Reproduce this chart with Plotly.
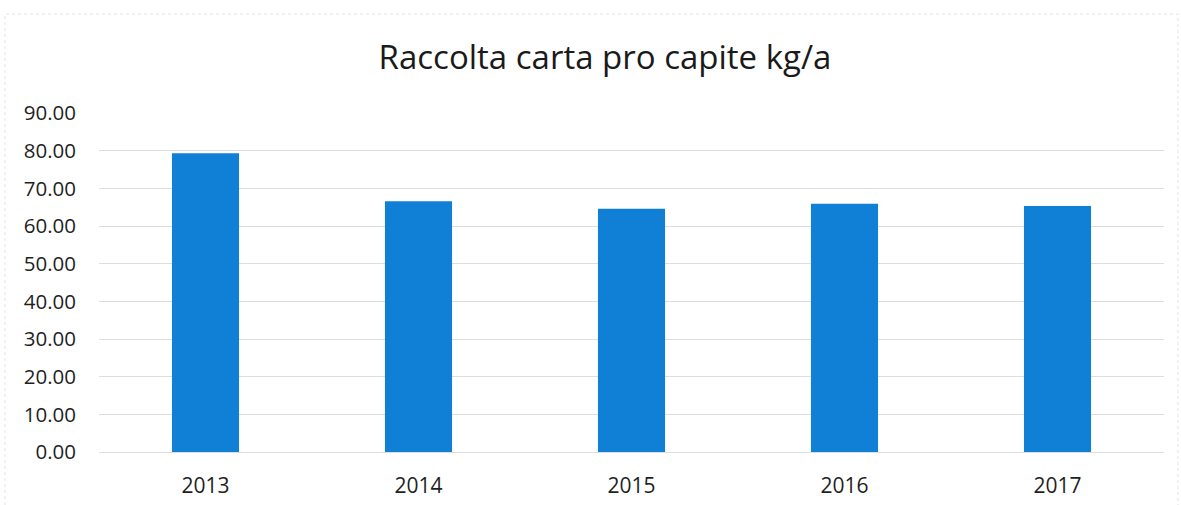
import plotly.graph_objects as go

years = ["2013", "2014", "2015", "2016", "2017"]
values = [79.3, 66.6, 64.6, 65.9, 65.3]
y_ticks = [0, 10, 20, 30, 40, 50, 60, 70, 80, 90]
y_tick_labels = ["0.00", "10.00", "20.00", "30.00", "40.00", "50.00", "60.00", "70.00", "80.00", "90.00"]

W, H = 1181, 505
L, R, T, B = 99, 17, 113, 53
pw, ph = W - L - R, H - T - B

fig = go.Figure(go.Bar(x=years, y=values, marker=dict(color="#1080D6", line=dict(width=0))))

fig.update_layout(
    width=W, height=H,
    margin=dict(l=L, r=R, t=T, b=B, autoexpand=False),
    paper_bgcolor="white", plot_bgcolor="white",
    bargap=0.685,
    showlegend=False,
    title=dict(text="Raccolta carta pro capite kg/a", x=(605 - L) / pw, xref="paper", xanchor="center",
               y=1 - 57/H, yanchor="middle",
               font=dict(family="Open Sans", size=33, color="#1a1a1a")),
    font=dict(family="Open Sans", color="#1f1f1f"),
)
fig.update_yaxes(range=[0, 90], tickvals=y_ticks, ticktext=y_tick_labels,
                 showgrid=True, gridcolor="#dedede", gridwidth=1, zeroline=False,
                 showline=False, ticks="", ticklabelstandoff=22, automargin=False,
                 tickfont=dict(size=20.5, color="#1f1f1f"))
fig.update_xaxes(showgrid=False, showline=True, linecolor="#dedede", linewidth=1,
                 ticks="", ticklabelstandoff=15, automargin=False,
                 tickfont=dict(size=21, color="#1f1f1f"))
fig.add_shape(type="rect", xref="paper", yref="paper",
              x0=(5 - L) / pw, x1=(1178 - L) / pw,
              y0=-(H + 5 - (T + ph)) / ph, y1=(T + ph - 14) / ph,
              line=dict(color="#e2e2e2", width=1, dash="dot"))
fig.write_html("out.html")
